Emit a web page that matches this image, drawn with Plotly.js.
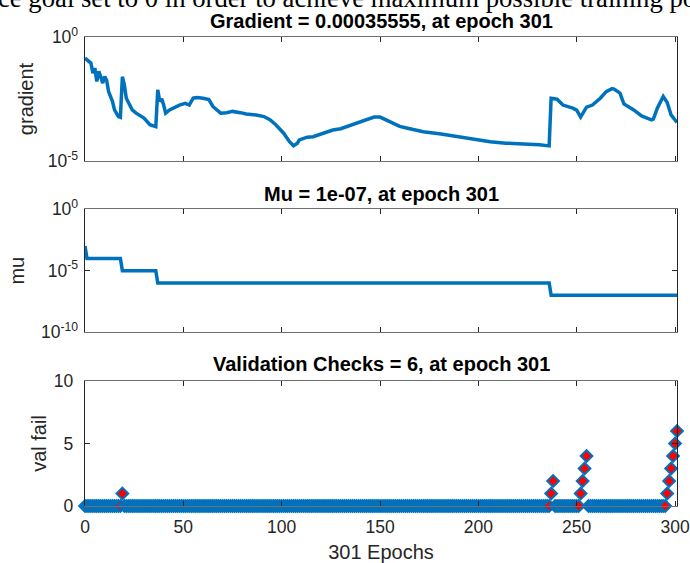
<!DOCTYPE html>
<html>
<head>
<meta charset="utf-8">
<script src="https://cdn.plot.ly/plotly-3.0.1.min.js"></script>
<style>
html,body{margin:0;padding:0;background:#fff;}
#chart{width:690px;height:563px;}
</style>
</head>
<body>
<div id="chart"></div>
<script>
// ---- Data ----
const headerText = "ce goal set to 0 in order to achieve maximum possible training po";
const gradTitle = "Gradient = 0.00035555, at epoch 301";
const muTitle = "Mu = 1e-07, at epoch 301";
const valTitle = "Validation Checks = 6, at epoch 301";
const xLabel = "301 Epochs";

const epochTicks = [0, 50, 100, 150, 200, 250, 300];

const gradEpochs = [0, 2, 3, 4, 5, 6, 7, 8, 9, 10, 11, 12, 14, 15, 17, 18, 19, 20, 21, 24, 26, 30, 33, 36, 37, 38, 39, 40, 41, 43, 46, 48, 51, 53, 55, 57, 60, 63, 65, 69, 72, 75, 79, 82, 87, 91, 94, 97, 101, 104, 106, 108, 109, 113, 116, 120, 123, 126, 130, 138, 143, 147, 150, 155, 160, 164, 172, 181, 189, 197, 206, 214, 223, 231, 236, 237, 240, 243, 248, 250, 252, 255, 258, 262, 265, 268, 269, 272, 274, 279, 283, 288, 289, 291, 294, 296, 298, 301];
const gradValues = [0.141, 0.107, 0.089, 0.035, 0.056, 0.016, 0.041, 0.025, 0.0138, 0.0257, 0.0178, 0.0063, 0.0025, 0.00115, 0.00062, 0.00058, 0.025, 0.0117, 0.0034, 0.00115, 0.00085, 0.00054, 0.00029, 0.000245, 0.0074, 0.0025, 0.0032, 0.0018, 0.00085, 0.00115, 0.00158, 0.0018, 0.0021, 0.0018, 0.0034, 0.0036, 0.0034, 0.0030, 0.00158, 0.00085, 0.00089, 0.001, 0.00089, 0.00079, 0.00072, 0.00062, 0.00046, 0.00029, 0.000132, 0.00006, 0.000041, 0.0000525, 0.0000708, 0.0000912, 0.0000955, 0.000123, 0.000151, 0.000178, 0.0002, 0.00033, 0.00048, 0.00059, 0.00059, 0.00039, 0.00025, 0.00021, 0.000151, 0.000123, 0.0000955, 0.0000759, 0.00006, 0.0000525, 0.000049, 0.0000447, 0.0000407, 0.0034, 0.0031, 0.0018, 0.00135, 0.00112, 0.00059, 0.00148, 0.0018, 0.0034, 0.0063, 0.0083, 0.0079, 0.0055, 0.002, 0.00115, 0.00066, 0.00046, 0.0005, 0.00135, 0.004, 0.0023, 0.00072, 0.00035555];

const muEpochs = [0, 1, 18, 19, 36, 37, 236, 237, 301];
const muValues = [1e-3, 1e-4, 1e-4, 1e-5, 1e-5, 1e-6, 1e-6, 1e-7, 1e-7];

// validation failures, one value per epoch 0..301
const valFail = [
  0,0,0,0,0,0,0,0,0,0,  0,0,0,0,0,0,0,0,0,1,
  0,0,0,0,0,0,0,0,0,0,  0,0,0,0,0,0,0,0,0,0,
  0,0,0,0,0,0,0,0,0,0,  0,0,0,0,0,0,0,0,0,0,
  0,0,0,0,0,0,0,0,0,0,  0,0,0,0,0,0,0,0,0,0,
  0,0,0,0,0,0,0,0,0,0,  0,0,0,0,0,0,0,0,0,0,
  0,0,0,0,0,0,0,0,0,0,  0,0,0,0,0,0,0,0,0,0,
  0,0,0,0,0,0,0,0,0,0,  0,0,0,0,0,0,0,0,0,0,
  0,0,0,0,0,0,0,0,0,0,  0,0,0,0,0,0,0,0,0,0,
  0,0,0,0,0,0,0,0,0,0,  0,0,0,0,0,0,0,0,0,0,
  0,0,0,0,0,0,0,0,0,0,  0,0,0,0,0,0,0,0,0,0,
  0,0,0,0,0,0,0,0,0,0,  0,0,0,0,0,0,0,0,0,0,
  0,0,0,0,0,0,0,0,0,0,  0,0,0,0,0,0,0,1,2,0,
  0,0,0,0,0,0,0,0,0,0,  0,0,1,2,3,4,0,0,0,0,
  0,0,0,0,0,0,0,0,0,0,  0,0,0,0,0,0,0,0,0,0,
  0,0,0,0,0,0,0,0,0,0,  0,0,0,0,0,0,1,2,3,4,
  5,6
];
const valEpochs = valFail.map((v, i) => i);

// ---- Styling ----
const BLUE = '#0072BD';
const AX = '#262626';
const FONT = 'Liberation Sans, Arial, Helvetica, sans-serif';
const W = 690, H = 563;
const M = {l: 85, r: 13, t: 37, b: 57};
const plotH = H - M.t - M.b;
const plotW = W - M.l - M.r;
const py = p => (H - M.b - p) / plotH;   // pixel row -> paper y
const px = p => (p - M.l) / plotW;       // pixel col -> paper x

const xBase = {
  range: [0, 301], tickvals: epochTicks, ticks: 'inside', ticklen: 5,
  tickcolor: AX, showline: true, linecolor: '#707070', linewidth: 1, mirror: 'ticks',
  showgrid: false, zeroline: false, fixedrange: true, automargin: false,
  tickfont: {family: FONT, size: 17.5, color: AX}
};
const yBase = {
  ticks: 'inside', ticklen: 5, tickcolor: AX, showline: true, linecolor: AX,
  linewidth: 1.3, mirror: 'ticks', showgrid: false, zeroline: false,
  automargin: true, fixedrange: true, ticklabelstandoff: 2,
  tickfont: {family: FONT, size: 17.5, color: AX}
};

const traces = [
  {x: gradEpochs, y: gradValues, type: 'scatter', mode: 'lines',
   line: {color: BLUE, width: 3.5}, xaxis: 'x', yaxis: 'y', hoverinfo: 'skip'},
  {x: muEpochs, y: muValues, type: 'scatter', mode: 'lines',
   line: {color: BLUE, width: 3.5}, xaxis: 'x2', yaxis: 'y2', hoverinfo: 'skip'},
  {x: valEpochs, y: valFail, type: 'scatter', mode: 'markers', cliponaxis: false,
   marker: {symbol: 'diamond', size: 9, color: '#FF0000', line: {color: BLUE, width: 2}},
   xaxis: 'x3', yaxis: 'y3', hoverinfo: 'skip'}
];

const layout = {
  width: W, height: H, margin: M, showlegend: false,
  paper_bgcolor: '#fff', plot_bgcolor: '#fff',
  font: {family: FONT, color: '#000'},
  xaxis: Object.assign({}, xBase, {anchor: 'y', showticklabels: false}),
  xaxis2: Object.assign({}, xBase, {anchor: 'y2', showticklabels: false}),
  xaxis3: Object.assign({}, xBase, {anchor: 'y3', ticklabelstandoff: 5,
    title: {text: xLabel, font: {family: FONT, size: 20, color: AX}, standoff: 12}}),
  yaxis: Object.assign({}, yBase, {type: 'log', range: [-5, 0],
    domain: [py(161), 1],
    tickvals: [1e-5, 1], ticktext: ['10<sup>-5</sup>', '10<sup>0</sup>'],
    title: {text: 'gradient', font: {family: FONT, size: 20, color: AX}, standoff: 8}}),
  yaxis2: Object.assign({}, yBase, {type: 'log', range: [-10, 0],
    domain: [py(332), py(209.3)],
    tickvals: [1e-10, 1e-5, 1], ticktext: ['10<sup>-10</sup>', '10<sup>-5</sup>', '10<sup>0</sup>'],
    title: {text: 'mu', font: {family: FONT, size: 20, color: AX}, standoff: 11}}),
  yaxis3: Object.assign({}, yBase, {range: [0, 10],
    domain: [0, py(381)], ticklabelstandoff: 7,
    tickvals: [0, 5, 10],
    title: {text: 'val fail', font: {family: FONT, size: 20, color: AX}, standoff: 1}}),
  annotations: [
    {text: headerText, xref: 'paper', yref: 'paper', x: px(-4), y: py(15), xanchor: 'left', yanchor: 'bottom',
     showarrow: false, font: {family: 'Liberation Serif, Times New Roman, serif', size: 26.7, color: '#000'}},
    {text: gradTitle, xref: 'paper', yref: 'paper', x: 0.5, y: py(21), xanchor: 'center', yanchor: 'middle',
     showarrow: false, font: {family: FONT, size: 20, color: '#000', weight: 'bold'}},
    {text: muTitle, xref: 'paper', yref: 'paper', x: 0.5, y: py(194), xanchor: 'center', yanchor: 'middle',
     showarrow: false, font: {family: FONT, size: 20, color: '#000', weight: 'bold'}},
    {text: valTitle, xref: 'paper', yref: 'paper', x: 0.5, y: py(364), xanchor: 'center', yanchor: 'middle',
     showarrow: false, font: {family: FONT, size: 20, color: '#000', weight: 'bold'}}
  ]
};

Plotly.newPlot('chart', traces, layout, {staticPlot: true, displayModeBar: false});
</script>
</body>
</html>
